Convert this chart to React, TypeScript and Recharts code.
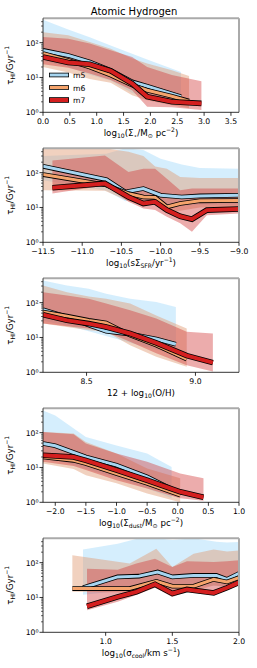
import React from "react";
import { ComposedChart, Area, Line, XAxis, YAxis, ReferenceLine } from "recharts";

// rows are [x, 16th pct, median, 84th pct] of tau_HI in Gyr
type Row = [number, number, number, number];

const sigStarM5: Row[] = [[0, 30, 60, 455], [0.47, 20, 43, 240], [0.87, 12, 28, 142], [1.26, 8, 16, 83], [1.66, 3.6, 7.5, 48], [1.94, 2.6, 5.6, 33], [2.57, 1.7, 2.8, 14.3]];
const sigStarM6: Row[] = [[0, 20, 49, 200], [0.47, 14, 31, 162], [0.87, 9, 20, 105], [1.26, 7, 11.7, 67], [1.66, 3.1, 6, 35], [1.94, 2.2, 4.3, 25], [2.4, 1.6, 2.9, 16], [2.72, 1.3, 2.1, 11]];
const sigStarM7: Row[] = [[0, 24, 39, 145], [0.47, 19, 27, 130], [0.87, 13, 24, 94], [1.26, 8.4, 15.5, 60], [1.66, 4.3, 6.7, 39], [1.94, 1.45, 2.8, 20], [2.4, 1.4, 2.0, 11.7], [2.95, 1.17, 1.8, 7.8]];

const sfrM5: Row[] = [[-11.5, 60, 152, 300], [-10.69, 30, 63, 350], [-10.45, 15, 28, 500], [-10.22, 18, 35, 450], [-10.0, 12, 22.5, 250], [-9.73, 11, 20, 170], [-9.5, 12, 21.5, 135], [-9.0, 12, 22.5, 130]];
const sfrM6: Row[] = [[-11.5, 31, 88, 500], [-10.71, 30, 45, 500], [-10.41, 15, 25, 400], [-10.22, 12, 20, 300], [-10.07, 12, 19.5, 150], [-9.92, 7, 10.4, 130], [-9.75, 8, 13, 75], [-9.5, 10, 15.5, 70], [-9.0, 10, 15.8, 70]];
const sfrM7: Row[] = [[-11.38, 25, 37, 225], [-10.71, 43, 49, 310], [-10.41, 14.5, 20, 105], [-10.22, 9.4, 13, 130], [-10.07, 8.4, 14.5, 130], [-9.92, 5.4, 8.4, 67], [-9.75, 3.5, 5.6, 31], [-9.6, 2.0, 4.6, 35], [-9.41, 6, 8.4, 35], [-9.0, 6.7, 9, 35]];

const ohM5: Row[] = [[8.3, 30, 63, 435], [8.41, 22, 39, 310], [8.51, 15, 22.5, 250], [8.59, 11, 15, 180], [8.7, 7, 12.5, 130], [8.82, 4.5, 9, 105], [8.91, 3.5, 6.4, 75]];
const ohM6: Row[] = [[8.3, 25, 54, 310], [8.41, 20, 41, 200], [8.51, 16, 31, 150], [8.59, 14.5, 26, 130], [8.7, 6, 11.7, 94], [8.82, 2.8, 6, 43], [8.96, 1.45, 2.4, 18]];
const ohM7: Row[] = [[8.3, 25, 45, 200], [8.41, 21, 31, 160], [8.51, 18, 25, 130], [8.59, 14.5, 20, 94], [8.7, 7.5, 13, 60], [8.82, 3.5, 7, 35], [8.96, 1.6, 3, 14.5], [9.08, 1.05, 1.9, 13]];

const dustM5: Row[] = [[-2.2, 20, 49, 435], [-2.0, 17, 42, 310], [-1.5, 9, 20, 75], [-1.0, 5, 11.7, 43], [-0.5, 2.5, 5.4, 25], [-0.1, 1.3, 2.4, 10.4]];
const dustM6: Row[] = [[-2.2, 13, 20, 105], [-1.7, 9, 16, 94], [-1.5, 6, 13, 54], [-1.0, 3.5, 6.7, 25], [-0.5, 1.8, 3.5, 9.4], [0.04, 1.0, 1.6, 4.9]];
const dustM7: Row[] = [[-2.2, 14.5, 22.5, 105], [-1.7, 11, 20, 90], [-1.5, 8.4, 16, 49], [-1.0, 4.3, 8.4, 25], [-0.5, 2.5, 4.3, 14.5], [0.04, 1.3, 2.0, 6.7], [0.42, 1.1, 1.4, 4.9]];

const coolM5: Row[] = [[0.83, 12, 19, 240], [1.09, 15, 39, 350], [1.25, 20, 41, 500], [1.39, 22, 54, 500], [1.5, 18, 39, 450], [1.66, 20, 43, 500], [1.83, 22, 43, 400], [1.91, 20, 33, 380], [2.0, 25, 49, 390]];
const coolM6: Row[] = [[0.75, 14.5, 18, 162], [1.18, 14, 18, 95], [1.38, 20, 29, 250], [1.5, 14, 21, 75], [1.66, 15, 21, 180], [1.81, 22, 33, 240], [1.91, 20, 28, 210], [2.0, 25, 37, 225]];
const coolM7: Row[] = [[0.86, 4.3, 5.6, 67], [1.09, 7.5, 10.4, 63], [1.23, 11.7, 14.5, 94], [1.37, 19, 24, 130], [1.5, 10.4, 13, 75], [1.61, 14.5, 17, 110], [1.81, 11.7, 13.5, 105], [1.91, 16, 19, 110], [2.0, 22.5, 27, 117]];

const models = ["m5", "m6", "m7"];
const lineColors = ["#a6d5f0", "#f5a46c", "#d41f1f"];
const bandColors = ["#87cefa", "#e09870", "#d03030"];
const bandOpacity = [0.35, 0.45, 0.4];
const lineWidths = [3, 3, 4];

const yTicks = [1, 2, 3, 4, 5, 6, 7, 8, 9, 10, 20, 30, 40, 50, 60, 70, 80, 90, 100, 200, 300, 400];
const yMajor: Record<number, string> = { 1: "10⁰", 10: "10¹", 100: "10²" };

type Seg = [string, number]; // 1 = superscript, -1 = subscript
const yLabel: Seg[] = [["τ", 0], ["HI", -1], ["/Gyr", 0], ["−1", 1]];

const FONT = "DejaVu Sans";
const PLOT_L = 43;
const PLOT_R = 239;
const PLOT_T = 18.3;
const PLOT_B = 112.3;

function MathText({ segs, fs, ...rest }: any) {
  let cur = 0;
  return (
    <text fontFamily={FONT} fontSize={fs} fill="#000" {...rest}>
      {segs.map(([t, s]: Seg, i: number) => {
        const target = s === 1 ? -fs * 0.42 : s === -1 ? fs * 0.28 : 0;
        const dy = target - cur;
        cur = target;
        return (
          <tspan key={i} dy={dy} fontSize={s ? fs * 0.7 : fs}>
            {t}
          </tspan>
        );
      })}
    </text>
  );
}

const fmt = (v: number) => v.toFixed(1).replace("-", "−");

function XTick({ x, y, payload }: any) {
  return (
    <g>
      <line x1={x} x2={x} y1={y} y2={y + 3.5} stroke="#000" strokeWidth={0.8} />
      <text x={x} y={y + 11.3} textAnchor="middle" fontFamily={FONT} fontSize={7.7} fill="#000">
        {fmt(payload.value)}
      </text>
    </g>
  );
}

function YTick({ x, y, payload }: any) {
  const label = yMajor[payload.value];
  return (
    <g>
      <line x1={x - (label ? 3.5 : 2)} x2={x} y1={y} y2={y} stroke="#000" strokeWidth={label ? 0.8 : 0.6} />
      {label && (
        <text x={x - 4.5} y={y + 3} textAnchor="end" fontFamily={FONT} fontSize={7.7} fill="#000">
          {label}
        </text>
      )}
    </g>
  );
}

const toData = (rows: Row[]) => rows.map(([x, lo, med, hi]) => ({ x, band: [lo, hi], med }));

function Panel({ top, series, xDomain, xTicks, xLabel, first }: any) {
  const data = series.map(toData);
  return (
    <div style={{ position: "absolute", left: 0, top, width: 257, height: 130 }}>
      <ComposedChart width={257} height={130} margin={{ top: PLOT_T, right: 257 - PLOT_R, bottom: 0, left: 0 }}>
        <XAxis
          type="number"
          dataKey="x"
          domain={xDomain}
          ticks={xTicks}
          interval={0}
          allowDataOverflow
          height={130 - PLOT_B}
          tickLine={false}
          tickSize={0}
          tickMargin={0}
          tick={(p: any) => <XTick {...p} />}
          axisLine={{ stroke: "#000", strokeWidth: 0.8 }}
        />
        <YAxis
          type="number"
          scale="log"
          domain={[1, 500]}
          ticks={yTicks}
          interval={0}
          allowDataOverflow
          width={PLOT_L}
          tickLine={false}
          tickSize={0}
          tickMargin={0}
          tick={(p: any) => <YTick {...p} />}
          axisLine={{ stroke: "#000", strokeWidth: 0.8 }}
        />
        {data.map((d: any, i: number) => (
          <Area
            key={`band-${i}`}
            data={d}
            dataKey="band"
            type="linear"
            stroke="none"
            fill={bandColors[i]}
            fillOpacity={bandOpacity[i]}
            isAnimationActive={false}
          />
        ))}
        {data.map((d: any, i: number) => [
          <Line
            key={`edge-${i}`}
            data={d}
            dataKey="med"
            type="linear"
            stroke="#000"
            strokeWidth={lineWidths[i] + 1.6}
            dot={false}
            activeDot={false}
            isAnimationActive={false}
          />,
          <Line
            key={`line-${i}`}
            data={d}
            dataKey="med"
            type="linear"
            stroke={lineColors[i]}
            strokeWidth={lineWidths[i]}
            dot={false}
            activeDot={false}
            isAnimationActive={false}
          />,
        ])}
        <ReferenceLine y={500} stroke="#aaaaaa" strokeWidth={2} />
        <ReferenceLine x={xDomain[1]} stroke="#aaaaaa" strokeWidth={2} />
      </ComposedChart>
      <svg width={257} height={150} style={{ position: "absolute", left: 0, top: 0, overflow: "visible", pointerEvents: "none" }}>
        <MathText segs={yLabel} fs={8.7} textAnchor="middle" transform={`translate(13, ${(PLOT_T + PLOT_B) / 2}) rotate(-90)`} />
        <MathText segs={xLabel} fs={8.7} textAnchor="middle" x={(PLOT_L + PLOT_R) / 2} y={PLOT_B + 23.3} />
        {first && (
          <g>
            <text x={134} y={15} textAnchor="middle" fontFamily={FONT} fontSize={10} fill="#000">
              Atomic Hydrogen
            </text>
            {models.map((m, i) => {
              const cy = 75 + i * 12.5;
              return (
                <g key={m}>
                  <line x1={49} x2={69} y1={cy} y2={cy} stroke="#000" strokeWidth={lineWidths[i] + 1.6} />
                  <line x1={49.8} x2={68.2} y1={cy} y2={cy} stroke={lineColors[i]} strokeWidth={lineWidths[i]} />
                  <text x={73} y={cy + 3} fontFamily={FONT} fontSize={7.7} fill="#000">
                    {m}
                  </text>
                </g>
              );
            })}
          </g>
        )}
      </svg>
    </div>
  );
}

const panels = [
  {
    series: [sigStarM5, sigStarM6, sigStarM7],
    xDomain: [0, 3.65],
    xTicks: [0, 0.5, 1, 1.5, 2, 2.5, 3, 3.5],
    xLabel: [["log", 0], ["10", -1], ["(Σ", 0], ["⋆", -1], ["/M", 0], ["⊙", -1], [" pc", 0], ["−2", 1], [")", 0]],
  },
  {
    series: [sfrM5, sfrM6, sfrM7],
    xDomain: [-11.5, -9.0],
    xTicks: [-11.5, -11, -10.5, -10, -9.5, -9],
    xLabel: [["log", 0], ["10", -1], ["(sΣ", 0], ["SFR", -1], ["/yr", 0], ["−1", 1], [")", 0]],
  },
  {
    series: [ohM5, ohM6, ohM7],
    xDomain: [8.3, 9.2],
    xTicks: [8.5, 9.0],
    xLabel: [["12 + log", 0], ["10", -1], ["(O/H)", 0]],
  },
  {
    series: [dustM5, dustM6, dustM7],
    xDomain: [-2.2, 1.0],
    xTicks: [-2, -1.5, -1, -0.5, 0, 0.5, 1],
    xLabel: [["log", 0], ["10", -1], ["(Σ", 0], ["dust", -1], ["/M", 0], ["⊙", -1], [" pc", 0], ["−2", 1], [")", 0]],
  },
  {
    series: [coolM5, coolM6, coolM7],
    xDomain: [0.53, 2.0],
    xTicks: [1, 1.5, 2],
    xLabel: [["log", 0], ["10", -1], ["(σ", 0], ["cool", -1], ["/km s", 0], ["−1", 1], [")", 0]],
  },
];

export default function App() {
  return (
    <div style={{ position: "absolute", left: 0, top: 0, width: 257, height: 668, background: "#fff" }}>
      {panels.map((p, i) => (
        <Panel key={i} top={i * 130} first={i === 0} {...p} />
      ))}
    </div>
  );
}
